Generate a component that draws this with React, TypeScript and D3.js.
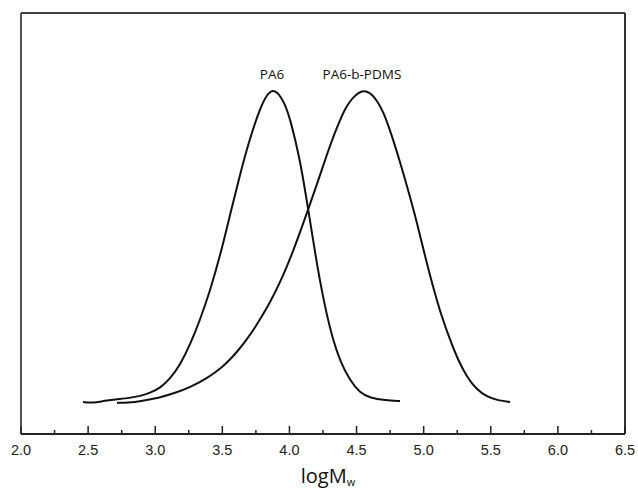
import { scaleLinear, line, curveBasis, range } from "d3";

const width = 638;
const height = 489;
const margin = { top: 13, right: 13, bottom: 55, left: 21 };
const innerWidth = width - margin.left - margin.right;
const innerHeight = height - margin.top - margin.bottom;

// GPC traces: [logMw, normalised signal]
const pa6 = [
  [2.462, 0.0], [2.537, -0.003], [2.611, 0.003], [2.7, 0.008], [2.812, 0.013],
  [2.887, 0.019], [2.961, 0.029], [3.036, 0.045], [3.11, 0.074], [3.185, 0.119],
  [3.259, 0.183], [3.334, 0.264], [3.408, 0.357], [3.483, 0.469], [3.557, 0.601],
  [3.632, 0.733], [3.706, 0.849], [3.781, 0.945], [3.833, 0.99], [3.878, 1.004],
  [3.915, 0.994], [3.96, 0.965], [4.004, 0.913], [4.057, 0.817], [4.079, 0.772],
  [4.109, 0.701], [4.139, 0.621], [4.168, 0.543], [4.206, 0.441], [4.243, 0.354],
  [4.28, 0.277], [4.325, 0.199], [4.377, 0.132], [4.452, 0.068], [4.526, 0.029],
  [4.601, 0.013], [4.712, 0.005], [4.824, 0.003],
];

const pa6bPdms = [
  [2.715, -0.003], [2.797, -0.002], [2.887, 0.002], [3.036, 0.014], [3.148, 0.029],
  [3.259, 0.047], [3.379, 0.075], [3.446, 0.095], [3.505, 0.115], [3.557, 0.136],
  [3.617, 0.165], [3.684, 0.202], [3.744, 0.24], [3.803, 0.281], [3.863, 0.327],
  [3.93, 0.385], [3.982, 0.437], [4.027, 0.485], [4.079, 0.546], [4.139, 0.618],
  [4.206, 0.702], [4.288, 0.807], [4.332, 0.859], [4.377, 0.907], [4.414, 0.942],
  [4.452, 0.968], [4.496, 0.989], [4.541, 1.001], [4.578, 0.999], [4.615, 0.989],
  [4.653, 0.968], [4.697, 0.936], [4.757, 0.865], [4.824, 0.772], [4.884, 0.682],
  [4.951, 0.576], [5.01, 0.469], [5.07, 0.37], [5.13, 0.28], [5.197, 0.199],
  [5.256, 0.135], [5.323, 0.08], [5.39, 0.042], [5.472, 0.016], [5.554, 0.005],
  [5.644, 0.0],
];

const curveLabels = [
  { text: "PA6", x: 3.87 },
  { text: "PA6-b-PDMS", x: 4.54 },
];

const xTicks = range(2.0, 6.51, 0.5);
const xMinorTicks = range(2.25, 6.5, 0.5);

export default function App() {
  const xScale = scaleLinear().domain([2.0, 6.5]).range([0, innerWidth]);
  const yScale = scaleLinear().domain([-0.103, 1.251]).range([innerHeight, 0]);

  const lineGen = line<number[]>()
    .x((d) => xScale(d[0]))
    .y((d) => yScale(d[1]))
    .curve(curveBasis);

  return (
    <svg
      width={width}
      height={height}
      style={{ position: "absolute", left: 0, top: 0, background: "#fff" }}
    >
      <g transform={`translate(${margin.left},${margin.top})`}>
        {/* frame */}
        <line x1={0} x2={innerWidth} y1={0} y2={0} stroke="#000" strokeWidth={1.5} />
        <line x1={0} x2={0} y1={0} y2={innerHeight} stroke="#555" strokeWidth={2} />
        <line x1={innerWidth} x2={innerWidth} y1={0} y2={innerHeight} stroke="#333" strokeWidth={2} />
        <line x1={0} x2={innerWidth} y1={innerHeight} y2={innerHeight} stroke="#222" strokeWidth={2} />

        {xTicks.map((v, i) => (
          <g key={i} transform={`translate(${xScale(v)},${innerHeight})`}>
            <line y1={0} y2={-8} stroke="#222" strokeWidth={1.5} />
            <text
              y={21}
              textAnchor="middle"
              fontFamily="'Liberation Sans', Arial, sans-serif"
              fontSize={14.5}
              fill="#222"
            >
              {v.toFixed(1)}
            </text>
          </g>
        ))}
        {xMinorTicks.map((v, i) => (
          <line
            key={i}
            x1={xScale(v)}
            x2={xScale(v)}
            y1={innerHeight}
            y2={innerHeight - 4}
            stroke="#222"
            strokeWidth={1.5}
          />
        ))}

        <text
          x={innerWidth / 2 + 5}
          y={innerHeight + 49}
          textAnchor="middle"
          fontFamily="'Open Sans', sans-serif"
          fontSize={20}
          fill="#111"
        >
          logM
          <tspan fontSize={11} dy={3}>w</tspan>
        </text>

        <path d={lineGen(pa6) ?? ""} fill="none" stroke="#111" strokeWidth={2} />
        <path d={lineGen(pa6bPdms) ?? ""} fill="none" stroke="#111" strokeWidth={2} />

        {curveLabels.map((l, i) => (
          <text
            key={i}
            x={xScale(l.x)}
            y={yScale(1) - 12}
            textAnchor="middle"
            fontFamily="'Open Sans', sans-serif"
            fontSize={13.5}
            fill="#111"
          >
            {l.text}
          </text>
        ))}
      </g>
    </svg>
  );
}
